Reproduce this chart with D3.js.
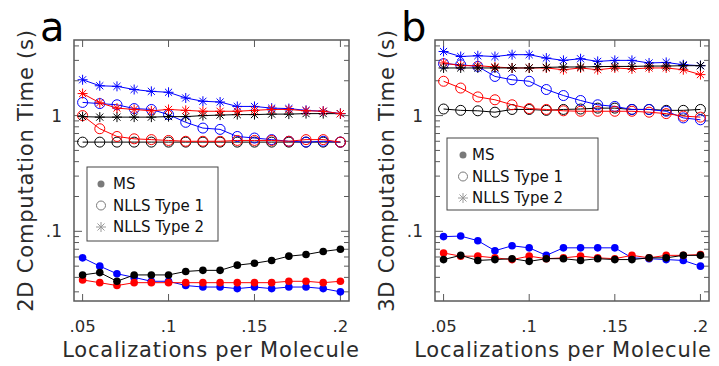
<!DOCTYPE html>
<html>
<head>
<meta charset="utf-8">
<script src="https://cdn.jsdelivr.net/npm/d3@7"></script>
<style>
  body { margin: 0; background: #fff; }
  svg { display: block; }
</style>
</head>
<body>
<div id="main"></div>
<script>
const ctx = {
    w: 719,
    h: 366
};

// x values (localizations per molecule)
const xVals = [0.05, 0.06, 0.07, 0.08, 0.09, 0.10, 0.11, 0.12, 0.13, 0.14, 0.15, 0.16, 0.17, 0.18, 0.19, 0.20];
const xTicks = [0.05, 0.1, 0.15, 0.2];
const xTickLabels = [".05", ".1", ".15", ".2"];
const yTicks = [0.1, 1];
const yTickLabels = [".1", "1"];
const legendLabels = ["MS", "NLLS Type 1", "NLLS Type 2"];

// panel a : 2D
const a_ms_blue  = [0.059, 0.050, 0.043, 0.040, 0.037, 0.037, 0.034, 0.033, 0.033, 0.032, 0.033, 0.032, 0.033, 0.033, 0.032, 0.030];
const a_ms_red   = [0.038, 0.036, 0.034, 0.036, 0.036, 0.036, 0.036, 0.036, 0.036, 0.036, 0.036, 0.036, 0.037, 0.037, 0.036, 0.037];
const a_ms_black = [0.042, 0.044, 0.037, 0.042, 0.042, 0.042, 0.045, 0.046, 0.046, 0.051, 0.053, 0.056, 0.061, 0.063, 0.067, 0.070];
const a_t1_blue  = [1.30, 1.27, 1.24, 1.15, 1.13, 1.02, 0.875, 0.78, 0.76, 0.66, 0.64, 0.62, 0.60, 0.59, 0.60, 0.59];
const a_t1_red   = [1.00, 0.77, 0.66, 0.63, 0.62, 0.61, 0.60, 0.60, 0.60, 0.61, 0.61, 0.61, 0.60, 0.62, 0.62, 0.59];
const a_t1_black = [0.59, 0.59, 0.59, 0.59, 0.59, 0.59, 0.59, 0.59, 0.59, 0.59, 0.59, 0.59, 0.59, 0.59, 0.59, 0.59];
const a_t2_blue  = [2.04, 1.81, 1.79, 1.68, 1.62, 1.59, 1.42, 1.33, 1.31, 1.20, 1.20, 1.16, 1.15, 1.11, 1.09, 1.04];
const a_t2_red   = [1.55, 1.29, 1.16, 1.13, 1.10, 1.13, 1.11, 1.09, 1.09, 1.09, 1.11, 1.13, 1.13, 1.10, 1.09, 1.04];
const a_t2_black = [0.98, 0.97, 0.97, 0.97, 0.97, 0.98, 0.98, 1.00, 1.01, 1.02, 1.02, 1.03, 1.03, 1.04, 1.04, 1.04];

// panel b : 3D
const b_ms_blue  = [0.090, 0.091, 0.083, 0.068, 0.075, 0.072, 0.062, 0.072, 0.072, 0.072, 0.072, 0.059, 0.058, 0.057, 0.056, 0.050];
const b_ms_red   = [0.065, 0.061, 0.061, 0.059, 0.057, 0.061, 0.058, 0.059, 0.061, 0.059, 0.058, 0.062, 0.059, 0.062, 0.062, 0.063];
const b_ms_black = [0.057, 0.062, 0.056, 0.057, 0.058, 0.055, 0.058, 0.058, 0.056, 0.058, 0.057, 0.057, 0.059, 0.059, 0.062, 0.062];
const b_t1_blue  = [2.81, 2.75, 2.66, 2.18, 2.04, 1.98, 1.68, 1.49, 1.35, 1.24, 1.20, 1.13, 1.13, 1.09, 0.955, 0.92];
const b_t1_red   = [1.98, 1.73, 1.45, 1.37, 1.24, 1.15, 1.13, 1.10, 1.09, 1.09, 1.09, 1.09, 1.07, 1.04, 0.99, 0.97];
const b_t1_black = [1.14, 1.11, 1.10, 1.07, 1.13, 1.13, 1.11, 1.13, 1.14, 1.16, 1.16, 1.13, 1.13, 1.11, 1.11, 1.13];
const b_t2_blue  = [3.58, 3.24, 3.29, 3.24, 3.36, 3.36, 3.14, 3.00, 3.10, 2.94, 3.00, 3.00, 2.85, 2.88, 2.75, 2.70];
const b_t2_red   = [2.85, 2.70, 2.70, 2.63, 2.58, 2.58, 2.58, 2.49, 2.58, 2.49, 2.58, 2.53, 2.58, 2.58, 2.49, 2.26];
const b_t2_black = [2.58, 2.58, 2.58, 2.58, 2.58, 2.58, 2.61, 2.63, 2.63, 2.65, 2.66, 2.66, 2.68, 2.68, 2.70, 2.70];

const FONT = "'DejaVu Sans', sans-serif";
const TXT = "#2b2b2b";

//==============================================================================================
function starPath(s) {
    const k = s * 0.7071;
    return `M${-s},0L${s},0M0,${-s}L0,${s}M${-k},${-k}L${k},${k}M${-k},${k}L${k},${-k}`;
}

function drawMarker(g, type, color, x, y) {
    if (type === "ms") {
        g.append("circle").attr("cx", x).attr("cy", y).attr("r", 3.8).attr("fill", color);
    } else if (type === "t1") {
        g.append("circle").attr("cx", x).attr("cy", y).attr("r", 5)
            .attr("fill", "none").attr("stroke", color).attr("stroke-width", 1);
    } else {
        g.append("path").attr("transform", `translate(${x},${y})`).attr("d", starPath(5))
            .attr("fill", "none").attr("stroke", color).attr("stroke-width", 1);
    }
}

function drawPanel(svg, p) {
    const x = d3.scaleLinear().domain([0.045, 0.205]).range([p.left, p.right]);
    const y = d3.scaleLog().domain([0.025, 4.5]).range([p.bottom, p.top]);

    const g = svg.append("g");

    // minor / major log ticks
    const minor = [];
    [0.01, 0.1, 1].forEach(dec => {
        for (let m = 2; m <= 9; m++) {
            const v = dec * m;
            if (v >= 0.025 && v <= 4.5) minor.push(v);
        }
    });
    const axC = "#5a5a5a";
    g.append("g").selectAll("line").data(minor).enter().append("line")
        .attr("x1", p.left).attr("x2", p.left + 5)
        .attr("y1", d => y(d)).attr("y2", d => y(d))
        .attr("stroke", axC).attr("stroke-width", 1);
    g.append("g").selectAll("line").data(minor).enter().append("line")
        .attr("x1", p.right).attr("x2", p.right - 5)
        .attr("y1", d => y(d)).attr("y2", d => y(d))
        .attr("stroke", axC).attr("stroke-width", 1);
    g.append("g").selectAll("line").data(yTicks).enter().append("line")
        .attr("x1", p.left).attr("x2", p.left + 8)
        .attr("y1", d => y(d)).attr("y2", d => y(d))
        .attr("stroke", axC).attr("stroke-width", 1);
    g.append("g").selectAll("line").data(yTicks).enter().append("line")
        .attr("x1", p.right).attr("x2", p.right - 8)
        .attr("y1", d => y(d)).attr("y2", d => y(d))
        .attr("stroke", axC).attr("stroke-width", 1);
    g.append("g").selectAll("line").data(xTicks).enter().append("line")
        .attr("x1", d => x(d)).attr("x2", d => x(d))
        .attr("y1", p.bottom).attr("y2", p.bottom - 7)
        .attr("stroke", axC).attr("stroke-width", 1);
    g.append("g").selectAll("line").data(xTicks).enter().append("line")
        .attr("x1", d => x(d)).attr("x2", d => x(d))
        .attr("y1", p.top).attr("y2", p.top + 7)
        .attr("stroke", axC).attr("stroke-width", 1);

    // tick labels
    g.append("g").selectAll("text").data(yTicks).enter().append("text")
        .attr("x", p.left - 12).attr("y", d => y(d)).attr("dy", "0.36em")
        .attr("text-anchor", "end")
        .attr("font-family", FONT).attr("font-size", 17).attr("fill", TXT)
        .text((d, i) => yTickLabels[i]);
    g.append("g").selectAll("text").data(xTicks).enter().append("text")
        .attr("x", d => x(d)).attr("y", 332)
        .attr("text-anchor", "middle")
        .attr("font-family", FONT).attr("font-size", 16.5).attr("fill", TXT)
        .text((d, i) => xTickLabels[i]);

    // axis titles
    g.append("text")
        .attr("x", p.xTitleX).attr("y", 357)
        .attr("text-anchor", "middle")
        .attr("font-family", FONT).attr("font-size", 21).attr("letter-spacing", 0.8)
        .attr("fill", TXT)
        .text("Localizations per Molecule");
    g.append("text")
        .attr("transform", `translate(${p.left - 41},${(p.top + p.bottom) / 2}) rotate(-90)`)
        .attr("text-anchor", "middle")
        .attr("font-family", FONT).attr("font-size", 21).attr("letter-spacing", 0.8)
        .attr("fill", TXT)
        .text(p.yTitle);

    // panel letter
    g.append("text")
        .attr("x", p.left - 34).attr("y", 41)
        .attr("font-family", FONT).attr("font-size", 40).attr("fill", "#000")
        .text(p.letter);

    // series
    const line = d3.line().x((d, i) => x(xVals[i])).y(d => y(d));
    const dataG = g.append("g");
    p.series.forEach(s => {
        dataG.append("path").datum(s.values)
            .attr("d", line)
            .attr("fill", "none").attr("stroke", s.color).attr("stroke-width", 1);
        s.values.forEach((v, i) => drawMarker(dataG, s.type, s.color, x(xVals[i]), y(v)));
    });

    // frame
    g.append("rect")
        .attr("x", p.left).attr("y", p.top)
        .attr("width", p.right - p.left).attr("height", p.bottom - p.top)
        .attr("fill", "none").attr("stroke", axC).attr("stroke-width", 1.5);

    // legend
    const L = p.legend;
    const lg = g.append("g");
    lg.append("rect")
        .attr("x", L.x).attr("y", L.y).attr("width", L.w).attr("height", L.h)
        .attr("fill", "#fff").attr("stroke", "#444").attr("stroke-width", 1);
    const types = ["ms", "t1", "t2"];
    legendLabels.forEach((lab, i) => {
        const cy = L.y + 17 + i * 21.5;
        if (types[i] === "ms") {
            lg.append("circle").attr("cx", L.mx).attr("cy", cy).attr("r", 3.5).attr("fill", "#7a7a7a");
        } else if (types[i] === "t1") {
            lg.append("circle").attr("cx", L.mx).attr("cy", cy).attr("r", 4.5)
                .attr("fill", "none").attr("stroke", "#7a7a7a").attr("stroke-width", 1);
        } else {
            lg.append("path").attr("transform", `translate(${L.mx},${cy})`).attr("d", starPath(5))
                .attr("fill", "none").attr("stroke", "#9a9a9a").attr("stroke-width", 1);
        }
        lg.append("text")
            .attr("x", L.tx).attr("y", cy).attr("dy", "0.36em")
            .attr("font-family", FONT).attr("font-size", 15).attr("fill", "#111")
            .text(lab);
    });
}

function createViz() {
    const svgEl = d3.select("#main").append("svg")
        .attr("width", ctx.w).attr("height", ctx.h);
    svgEl.append("rect").attr("width", ctx.w).attr("height", ctx.h).attr("fill", "#fff");

    const mk = (type, color, values) => ({ type, color, values });
    const BL = "#0000ff", RD = "#ff0000", BK = "#000000";

    drawPanel(svgEl, {
        letter: "a", yTitle: "2D Computation Time (s)",
        left: 74, right: 349, top: 40, bottom: 301, xTitleX: 211,
        legend: { x: 87, y: 167, w: 131, h: 74, mx: 101, tx: 113 },
        series: [
            mk("t1", BK, a_t1_black), mk("t1", BL, a_t1_blue), mk("t1", RD, a_t1_red),
            mk("t2", BK, a_t2_black), mk("t2", BL, a_t2_blue), mk("t2", RD, a_t2_red),
            mk("ms", BL, a_ms_blue), mk("ms", RD, a_ms_red), mk("ms", BK, a_ms_black)
        ]
    });
    drawPanel(svgEl, {
        letter: "b", yTitle: "3D Computation Time (s)",
        left: 435, right: 709, top: 40, bottom: 301, xTitleX: 563,
        legend: { x: 447, y: 138, w: 151, h: 72, mx: 463, tx: 472 },
        series: [
            mk("t1", BK, b_t1_black), mk("t1", BL, b_t1_blue), mk("t1", RD, b_t1_red),
            mk("t2", BL, b_t2_blue), mk("t2", RD, b_t2_red), mk("t2", BK, b_t2_black),
            mk("ms", BL, b_ms_blue), mk("ms", RD, b_ms_red), mk("ms", BK, b_ms_black)
        ]
    });
}

createViz();
</script>
</body>
</html>
